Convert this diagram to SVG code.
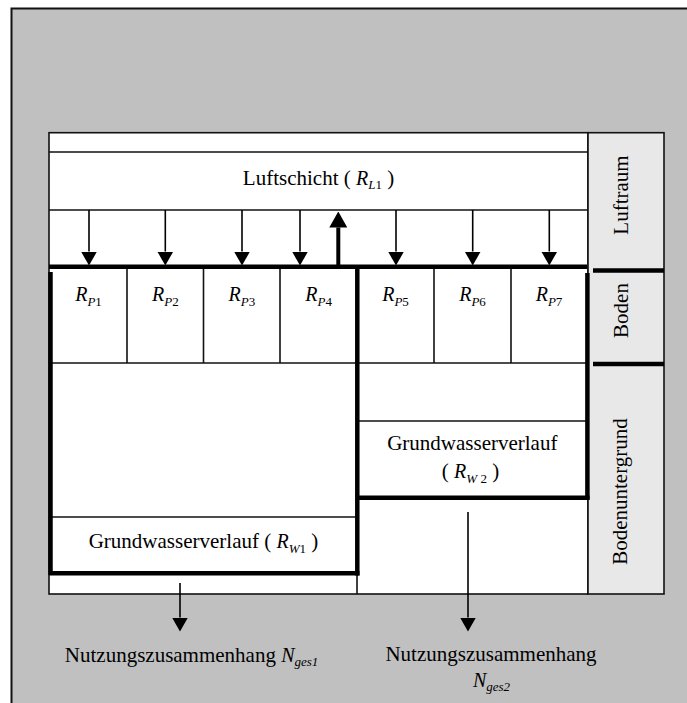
<svg xmlns="http://www.w3.org/2000/svg" width="687" height="703" viewBox="0 0 687 703">
  <style>
    .thin { stroke: #111; stroke-width: 1.6; fill: none; }
    .thick { stroke: #000; stroke-width: 4.5; fill: none; }
    .cell { fill: #fff; stroke: #111; stroke-width: 1.6; }
    .side { fill: #e8e8e8; stroke: #111; stroke-width: 1.6; }
    text { font-family: "Liberation Serif", "Times New Roman", serif; font-size: 21px; fill: #000; }
    .it { font-style: italic; }
    .sub { font-size: 13px; }
    .sym { font-size: 20px; font-style: italic; }
    .arrow { stroke: #000; stroke-width: 1.6; fill: none; marker-end: url(#head); }
    .arrow-up { stroke: #000; stroke-width: 4; fill: none; marker-end: url(#headBig); }
  </style>
  <defs>
    <marker id="head" viewBox="0 0 14 16" refX="0" refY="8" markerWidth="14" markerHeight="16" markerUnits="userSpaceOnUse" orient="auto">
      <path d="M0,0 L14,8 L0,16 z" fill="#000"/>
    </marker>
    <marker id="headBig" viewBox="0 0 16 18" refX="0" refY="9" markerWidth="16" markerHeight="18" markerUnits="userSpaceOnUse" orient="auto">
      <path d="M0,0 L16,9 L0,18 z" fill="#000"/>
    </marker>
  </defs>

  <!-- page background and frame -->
  <rect x="0" y="0" width="687" height="703" fill="#fff"/>
  <rect x="11" y="8" width="676" height="695" fill="#c0c0c0"/>
  <path d="M11.5,703 V8.5 H687" stroke="#111" stroke-width="2" fill="none"/>

  <!-- table frame -->
  <g id="table">
    <rect class="cell" x="49" y="132.7" width="539" height="461.3"/>
    <line class="thin" x1="49" y1="152" x2="588" y2="152"/>
    <line class="thin" x1="49" y1="210" x2="588" y2="210"/>
    <line class="thin" x1="50" y1="363" x2="587" y2="363"/>
    <line class="thin" x1="127" y1="267" x2="127" y2="363"/>
    <line class="thin" x1="203.5" y1="267" x2="203.5" y2="363"/>
    <line class="thin" x1="280" y1="267" x2="280" y2="363"/>
    <line class="thin" x1="434" y1="267" x2="434" y2="363"/>
    <line class="thin" x1="511" y1="267" x2="511" y2="363"/>
    <line class="thin" x1="50" y1="517" x2="357" y2="517"/>
    <line class="thin" x1="357" y1="421" x2="587" y2="421"/>
    <line class="thin" x1="357" y1="575" x2="357" y2="594"/>
  </g>

  <!-- side column -->
  <g id="side">
    <rect class="side" x="588" y="132.7" width="76" height="461.3"/>
    <line class="thick" x1="593" y1="270.5" x2="664" y2="270.5" stroke-width="5"/>
    <line class="thick" x1="593" y1="364" x2="664" y2="364" stroke-width="5"/>
  </g>
  <g id="luftraum"><text transform="translate(628,195) rotate(-90)" text-anchor="middle">Luftraum</text></g>
  <g id="boden"><text transform="translate(628,310.5) rotate(-90)" text-anchor="middle">Boden</text></g>
  <g id="bodenuntergrund"><text transform="translate(627,491.5) rotate(-90)" text-anchor="middle">Bodenuntergrund</text></g>

  <!-- heavy outlines of the two use areas -->
  <g id="zones">
    <line class="thick" x1="49" y1="266.8" x2="587" y2="266.8"/>
    <line class="thick" x1="50.5" y1="272" x2="50.5" y2="575"/>
    <line class="thick" x1="49" y1="573.2" x2="359.5" y2="573.2"/>
    <line class="thick" x1="357.3" y1="267" x2="357.3" y2="575.5"/>
    <line class="thick" x1="587.4" y1="273" x2="587.4" y2="499.5"/>
    <line class="thick" x1="357" y1="497.7" x2="589.6" y2="497.7"/>
  </g>

  <!-- labels -->
  <g id="luftschicht">
    <text x="318.5" y="185" text-anchor="middle">Luftschicht ( <tspan class="sym">R</tspan><tspan class="sub it" dy="4">L</tspan><tspan class="sub">1</tspan><tspan dy="-4"> )</tspan></text>
  </g>
  <g id="rp1"><text x="88.5" y="300.5" text-anchor="middle"><tspan class="sym">R</tspan><tspan class="sub it" dy="5">P</tspan><tspan class="sub">1</tspan></text></g>
  <g id="rp2"><text x="165.3" y="300.5" text-anchor="middle"><tspan class="sym">R</tspan><tspan class="sub it" dy="5">P</tspan><tspan class="sub">2</tspan></text></g>
  <g id="rp3"><text x="241.8" y="300.5" text-anchor="middle"><tspan class="sym">R</tspan><tspan class="sub it" dy="5">P</tspan><tspan class="sub">3</tspan></text></g>
  <g id="rp4"><text x="318.6" y="300.5" text-anchor="middle"><tspan class="sym">R</tspan><tspan class="sub it" dy="5">P</tspan><tspan class="sub">4</tspan></text></g>
  <g id="rp5"><text x="395.5" y="300.5" text-anchor="middle"><tspan class="sym">R</tspan><tspan class="sub it" dy="5">P</tspan><tspan class="sub">5</tspan></text></g>
  <g id="rp6"><text x="472.5" y="300.5" text-anchor="middle"><tspan class="sym">R</tspan><tspan class="sub it" dy="5">P</tspan><tspan class="sub">6</tspan></text></g>
  <g id="rp7"><text x="549" y="300.5" text-anchor="middle"><tspan class="sym">R</tspan><tspan class="sub it" dy="5">P</tspan><tspan class="sub">7</tspan></text></g>

  <g id="gw1">
    <text x="203.5" y="548" text-anchor="middle">Grundwasserverlauf ( <tspan class="sym">R</tspan><tspan class="sub it" dy="5">W</tspan><tspan class="sub">1</tspan><tspan dy="-5"> )</tspan></text>
  </g>
  <g id="gw2">
    <text x="472.3" y="450" text-anchor="middle">Grundwasserverlauf</text>
    <text x="470.5" y="478" text-anchor="middle">( <tspan class="sym">R</tspan><tspan class="sub it" dy="5">W</tspan><tspan class="sub"> 2</tspan><tspan dy="-5"> )</tspan></text>
  </g>

  <g id="nutz1">
    <text x="191.6" y="661.7" text-anchor="middle">Nutzungszusammenhang <tspan class="sym">N</tspan><tspan class="sub it" dy="4">ges1</tspan></text>
  </g>
  <g id="nutz2">
    <text x="491" y="661" text-anchor="middle">Nutzungszusammenhang</text>
    <text x="491.5" y="686.7" text-anchor="middle"><tspan class="sym">N</tspan><tspan class="sub it" dy="4">ges2</tspan></text>
  </g>

  <!-- flows -->
  <g id="connectors">
    <line class="arrow" x1="89" y1="210" x2="89" y2="251.5"/>
    <line class="arrow" x1="165.3" y1="210" x2="165.3" y2="251.5"/>
    <line class="arrow" x1="242" y1="210" x2="242" y2="251.5"/>
    <line class="arrow" x1="300" y1="210" x2="300" y2="251.5"/>
    <line class="arrow" x1="396" y1="210" x2="396" y2="251.5"/>
    <line class="arrow" x1="472.7" y1="210" x2="472.7" y2="251.5"/>
    <line class="arrow" x1="549.3" y1="210" x2="549.3" y2="251.5"/>
    <line class="arrow-up" x1="338.3" y1="265" x2="338.3" y2="227.5"/>
    <line class="arrow" x1="180" y1="583" x2="180" y2="617.5"/>
    <line class="arrow" x1="468" y1="512" x2="468" y2="617.5"/>
  </g>
</svg>
